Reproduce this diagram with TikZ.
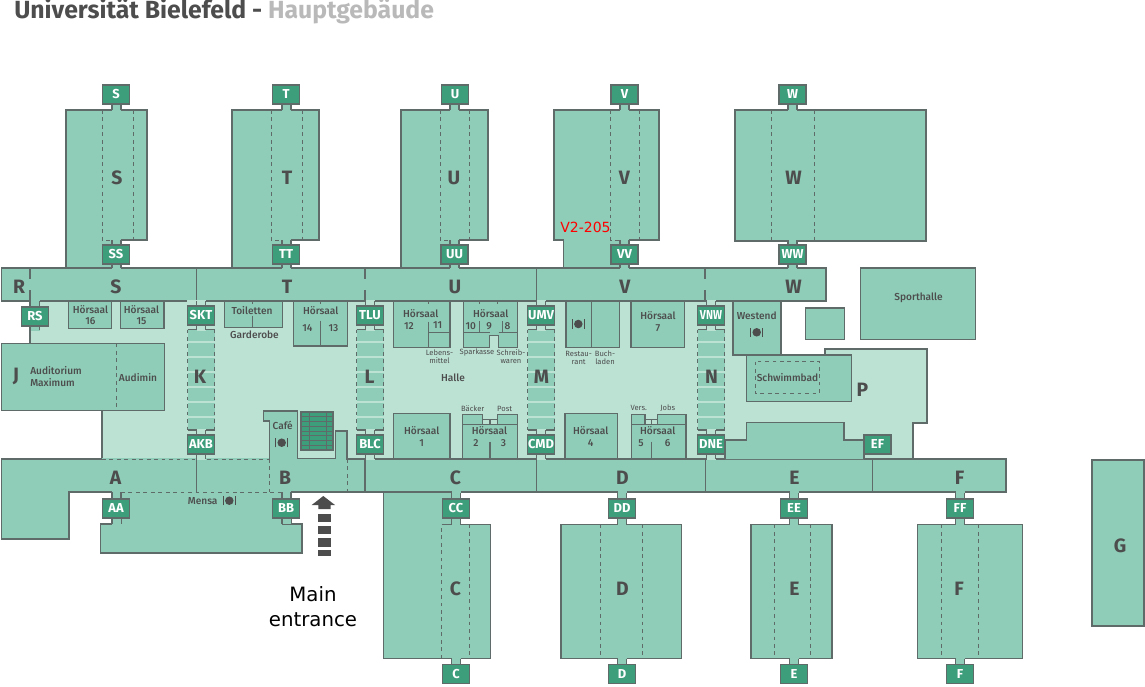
\documentclass[tikz,border=0pt]{standalone}
\usepackage{fontspec}
\usepackage{graphicx}
\setmainfont{Fira Sans}
\newfontfamily\medfont{Fira Sans Medium}
\newfontfamily\plainfont{DejaVu Sans}
\definecolor{wingcol}{HTML}{8FCDB8}
\definecolor{hallcol}{HTML}{BCE2D4}
\definecolor{gatecol}{HTML}{3D9E7C}
\definecolor{wallcol}{HTML}{5F6B68}
\definecolor{inkcol}{HTML}{4D4D4D}
\definecolor{palecol}{HTML}{B9B9B9}
\tikzset{
  wall/.style={draw=wallcol,line width=0.95pt},
  wing/.style={wall,fill=wingcol},
  hidden/.style={draw=wallcol,line width=0.75pt,dash pattern=on 2.8pt off 2.8pt},
  gate/.style={wall,fill=gatecol,text=white,font=\bfseries\fontsize{9.7}{10}\selectfont,
    minimum width=20.4pt,minimum height=14.4pt,inner sep=0pt},
  letter/.style={text=inkcol,inner sep=0pt,font=\bfseries\fontsize{14.5}{14.5}\selectfont},
  roomlabel/.style={text=inkcol,inner sep=0pt,font=\medfont\fontsize{7.6}{7.6}\selectfont},
  smalllabel/.style={text=inkcol,inner sep=0pt,align=center,font=\fontsize{5.7}{6.2}\selectfont},
  plate/.pic={
    \fill[inkcol] (0,0) circle (3.2pt);
    \draw[inkcol,line width=1pt] (-4.5pt,-3.5pt) to (-4.5pt,3.5pt);
    \draw[inkcol,line width=1pt] (4.5pt,-3.5pt) to (4.5pt,3.5pt);
  }
}
\newcommand{\neck}[4][wingcol]{%
  \fill[#1] (#2,#3-1) rectangle (#2+9,#4+1);
  \draw[wall] (#2,#3) to (#2,#4);
  \draw[wall] (#2+9,#3) to (#2+9,#4);
}
\begin{document}
\begin{tikzpicture}[x=0.75pt,y=-0.75pt]
  \useasboundingbox (0,0) rectangle (1145,686);
  \node[anchor=base west,inner sep=0pt,font=\bfseries\fontsize{18.6}{19}\selectfont] (title) at (14,18.5)
    {\textcolor{inkcol}{Universit\"at Bielefeld - }\textcolor{palecol}{Hauptgeb\"aude}};

  % hall
  \draw[wall,fill=hallcol] (30,301) -- (733,301) -- (733,355) -- (825,355) -- (825,349) -- (927,349)
    -- (927,423) -- (913,423) -- (913,459) -- (102,459) -- (102,410) -- (30,410) -- cycle;

  % upper wings
  \foreach \l/\r/\n/\da/\db in {66/147/112/102/133,232/319/282/271/302,401/488/450/440/469} {
    \draw[wing] (\l,268) -- (\l,110) -- (\r,110) -- (\r,240) -- (\n+9,240) -- (\n+9,268) -- cycle;
    \draw[hidden] (\da,110) -- (\da,240) -- (\n,240);
    \draw[hidden] (\db,110) to (\db,240);
  }
  \draw[wing] (563.5,268) -- (563.5,240) -- (554,240) -- (554,110) -- (659,110) -- (659,240)
    -- (629,240) -- (629,268) -- cycle;
  \draw[hidden] (610.5,110) -- (610.5,240) -- (620,240);
  \draw[hidden] (639.5,110) to (639.5,240);
  \draw[wing] (735,110) rectangle (926,241);
  \draw[hidden] (771,110) to (771,241);
  \draw[hidden] (814.5,110) to (814.5,241);
  \foreach \n in {112,282,450,620,788} {
    \neck{\n}{104}{110}
    \neck{\n}{240}{245}
    \neck{\n}{264}{268}
  }

  % lower wings
  \draw[wing] (383.5,492) -- (383.5,658.5) -- (490.5,658.5) -- (490.5,524.5) -- (460.5,524.5)
    -- (460.5,492) -- cycle;
  \draw[hidden] (441.5,658.5) -- (441.5,524.5);
  \draw[wall] (441.5,524.5) to (451.5,524.5);
  \draw[hidden] (469.5,524.5) to (469.5,658.5);
  \foreach \l/\r/\da/\db in {561/681.5/600.5/642.5,751/832/774.5/810.5,917.5/1022.5/941.5/978} {
    \draw[wing] (\l,524.5) rectangle (\r,658.5);
    \draw[hidden] (\da,524.5) to (\da,658.5);
    \draw[hidden] (\db,524.5) to (\db,658.5);
  }
  \foreach \n in {451.5,617.5,789.5,955.5} {
    \neck{\n}{492}{498}
    \neck{\n}{518.5}{524.5}
    \neck{\n}{658.5}{663.5}
  }

  % upper corridor
  \draw[wing] (1.5,268) rectangle (826,301);
  \draw[wall] (196.5,268) to (196.5,301);
  \draw[wall] (536.5,268) to (536.5,301);
  \foreach \x in {30,365,705} {
    \draw[wall] (\x,268) to (\x,279);
    \draw[wall] (\x,290) to (\x,301);
  }
  \foreach \n in {112,282,450,620,788} {
    \neck{\n}{264}{268}
  }
  \fill[hallcol] (187,300.4) rectangle (197,302);

  % lower corridor, Mensa and Cafe
  \draw[wing] (100.5,524) -- (112,524) -- (112,491) -- (291,491) -- (291,524) -- (302,524)
    -- (302,553) -- (100.5,553) -- cycle;
  \fill[wingcol] (1.5,458) -- (1006,458) -- (1006,492) -- (69,492) -- (69,539) -- (1.5,539) -- cycle;
  \draw[wall] (102,459) -- (1.5,459) -- (1.5,539) -- (69,539) -- (69,492) -- (112,492);
  \draw[wall] (291,492) -- (1006,492) -- (1006,459) -- (347,459);
  \draw[hidden] (121,492) to (282,492);
  \draw[hidden] (102,459) to (195,459);
  \draw[hidden] (207,459) to (269,459);
  \draw[hidden] (269,459) to (269,492);
  \draw[hidden] (347,459) to (347,492);
  \foreach \x in {196.5,365,536.5,705.5,872.5} {
    \draw[wall] (\x,459) to (\x,492);
  }
  \draw[wing] (269.5,462) -- (269.5,421) -- (263.5,421) -- (263.5,411) -- (297.5,411) -- (297.5,458.5)
    -- (335.5,458.5) -- (335.5,431) -- (347,431) -- (347,462);
  \fill[wingcol] (270,459.5) rectangle (346.5,464);
  \draw[wall,fill=gatecol] (301,412) rectangle (333,450);
  \foreach \y in {416.7,421.5,426.3,431.1,435.9,440.7,445.5} {
    \draw[wallcol,line width=0.7pt] (301,\y) to (333,\y);
  }
  \draw[wallcol,line width=0.7pt] (309,412) to (309,450);
  \draw[wallcol,line width=0.7pt] (326,412) to (326,450);
  \foreach \n in {112,282,451.5,617.5,789.5,955.5} {
    \fill[wingcol] (\n,491) rectangle (\n+9,493);
  }
  \neck{112}{492}{498}
  \neck{112}{518.5}{524}
  \neck{282}{492}{498}
  \neck{282}{518.5}{524}
  \draw[wall] (282,524) -- (302,524);
  \fill[wingcol] (283,519) rectangle (290.5,524.4);
  \fill[wingcol] (113,519) rectangle (120.5,524.4);
  \draw[wall] (100.5,524) -- (112,524);

  % rooms on the hall
  \draw[wing] (1.5,343.5) rectangle (164.5,410.5);
  \draw[hidden] (116,343.5) to (116,410.5);
  \draw[wing] (68.5,301) rectangle (111.5,328.5);
  \draw[wing] (120.5,301) rectangle (164,328.5);
  \draw[wing] (224.5,301) rectangle (282.5,327.5);
  \draw[wall] (252.5,315.5) to (252.5,327.5);
  \draw[wall] (252.5,301) to (252.5,304);
  \draw[wing] (293.5,301) rectangle (347.5,346);
  \draw[wall] (320.5,320.5) to (320.5,346);
  \draw[wall] (320.5,301) to (320.5,304);
  \draw[wing] (393.5,301) rectangle (450,347.5);
  \draw[wall] (428.5,321.5) to (428.5,347.5);
  \draw[wall] (428.5,332.5) to (450,332.5);
  \draw[wall] (428.5,301) to (428.5,304);
  \draw[wing] (463.5,301) -- (517.5,301) -- (517.5,347.5) -- (498.5,347.5) -- (498.5,335.5)
    -- (489.5,335.5) -- (489.5,347.5) -- (463.5,347.5) -- cycle;
  \draw[wall] (463.5,332.5) -- (489.5,332.5);
  \draw[wall] (498.5,332.5) -- (517.5,332.5);
  \draw[wall] (479.5,321) to (479.5,332.5);
  \draw[wall] (502.5,321) to (502.5,332.5);
  \draw[wall] (479.5,301) to (479.5,304);
  \draw[wall] (497.5,301) to (497.5,304);
  \draw[wing] (566,301) rectangle (619.5,347.5);
  \draw[wall] (591.5,301) to (591.5,347.5);
  \draw[wing] (631,301) rectangle (684.5,347.5);
  \draw[wing] (393.5,413.5) rectangle (450,459);
  \draw[wing] (565,413.5) rectangle (617.5,459);
  \foreach \l/\r/\a/\b/\m in {462.5/517.5/482.5/497.5/490,631.5/686/645/657.5/651.5} {
    \draw[wing] (\l,424.5) rectangle (\r,459);
    \draw[wing] (\l,414.5) rectangle (\a,424.5);
    \draw[wing] (\b,414.5) rectangle (\r,424.5);
    \draw[wall] (\a,419.5) to (\b,419.5);
    \draw[wall] (\m,419.5) to (\m,424.5);
    \draw[wall] (\m,441.5) to (\m,459);
  }
  \draw[wing] (733.5,301) rectangle (781,355);
  \draw[wing] (746.5,355) rectangle (851.5,401.5);
  \draw[hidden] (755,361.5) rectangle (819.5,393.5);
  \draw[wing] (725,459) -- (725,440) -- (746.5,440) -- (746.5,422.5) -- (844,422.5) -- (844,440)
    -- (864,440) -- (864,459);
  \draw[wing] (805.5,308) rectangle (844.5,339.5);
  \draw[wing] (860.5,268) rectangle (975.5,339.5);
  \draw[wing] (1092,460) rectangle (1144,626);

  % stairs
  \foreach \c in {201,370,541,711} {
    \fill[wingcol] (\c-13.5,329.5) rectangle (\c+13.5,430);
    \foreach \y in {342,357,372,387,402,417} {
      \fill[hallcol] (\c-13.5,\y-1) rectangle (\c+13.5,\y+1);
    }
    \draw[hidden] (\c-13.5,329.5) to (\c-13.5,430);
    \draw[hidden] (\c+13.5,329.5) to (\c+13.5,430);
    \draw[wall] (\c-13.5,329.5) -- (\c-4.5,329.5);
    \draw[wall] (\c+13.5,329.5) -- (\c+4.5,329.5);
    \draw[wall] (\c-13.5,430) -- (\c-4.5,430);
    \draw[wall] (\c+13.5,430) -- (\c+4.5,430);
    \neck[hallcol]{\c-4.5}{301}{306}
    \neck[hallcol]{\c-4.5}{325}{329.5}
    \neck[hallcol]{\c-4.5}{430}{435}
    \neck[hallcol]{\c-4.5}{454}{459}
  }
  \neck{30.5}{301}{307}
  \neck{30.5}{325.5}{330}

  % gates
  \foreach \nm/\x/\y/\txt in {gS/116/94.5/S,gT/286/94.5/T,gU/455/94.5/U,gV/624.5/94.5/V,gW/792.5/94.5/W,
    gSS/116/254.5/SS,gTT/286/254.5/TT,gUU/454.5/254.5/UU,gVV/624.5/254.5/VV,gWW/792.5/254.5/WW,
    gRS/35/316.5/RS,gSKT/201/315.5/SKT,gTLU/370/315.5/TLU,gUMV/541/315.5/UMV,
    gAKB/201/444.5/AKB,gBLC/370/444.5/BLC,gCMD/541/444.5/CMD,gDNE/711/444.5/DNE,gEF/877.5/444.5/EF,
    gAA/116/508.5/AA,gBB/286/508.5/BB,gCC/456/508.5/CC,gDD/622/508.5/DD,gEE/794/508.5/EE,gFF/960/508.5/FF,
    gC/456/674/C,gD/622/674/D,gE/794/674/E,gF/960/674/F} {
    \node[gate] (\nm) at (\x,\y) {\txt};
  }
  \node[gate] (gVNW) at (711,315.5) {\scalebox{0.82}[1]{VNW}};

  % letters
  \foreach \nm/\x/\y/\txt in {wS/117/178/S,wT/287/178/T,wU/454/178/U,wV/624.5/178/V,wW/793.5/178/W,
    cR/19/286.7/R,cS/116/286.7/S,cT/287/286.7/T,cU/455/286.7/U,cV/625/286.7/V,cW/793.5/286.7/W,
    cJ/16/376.5/J,cK/200/376.5/K,cL/369.5/376.5/L,cM/541.5/376.5/M,cN/711.5/376.5/N,cP/862.5/390/P,
    cA/115.5/477.7/A,cB/285/477.7/B,cC/455.5/477.7/C,cD/622.5/477.7/D,cE/794.5/477.7/E,cF/959.5/477.7/F,
    wC/455.5/589/C,wD/622.5/589/D,wE/794.5/589/E,wF/959/589/F,wG/1120/546/G} {
    \node[letter] (\nm) at (\x,\y) {\txt};
  }

  % room names
  \foreach \nm/\x/\y/\txt in {hs16/90.5/309.5/H\"orsaal,n16/90.5/320.7/16,hs15/141.5/309.5/H\"orsaal,n15/141.5/320.7/15,
    toil/252/310.7/Toiletten,gard/254.5/334.5/Garderobe,hs14/320.7/310.7/H\"orsaal,n14/307.5/328.5/14,n13/333.5/328.5/13,
    audi/138/377.5/Audimin,mensa/202.7/500.7/Mensa,cafe/282.7/425.7/Caf\'e,
    hs12/420.7/313.5/H\"orsaal,n12/409/325.7/12,n11/437.7/325.5/11,
    hs10/490.7/313.7/H\"orsaal,n10/470.7/325.7/10,n9/489/325.7/9,n8/507.5/325.7/8,
    hs7/658/316/H\"orsaal,n7/658/327.7/7,halle/453/377.5/Halle,
    hs1/421.7/431/H\"orsaal,n1/421.7/442.7/1,hs2/489.5/431/H\"orsaal,n2/476/442.7/2,n3/503.5/442.7/3,
    hs4/590.7/431/H\"orsaal,n4/590.7/442.7/4,hs5/657.7/431/H\"orsaal,n5/641/442.7/5,n6/667.7/442.7/6,
    west/756.7/316/Westend,schw/787.5/377.5/Schwimmbad,sport/918.5/298/Sporthalle} {
    \node[roomlabel] (\nm) at (\x,\y) {\txt};
  }
  \node[roomlabel,anchor=west] (aula) at (30,370.7) {Auditorium};
  \node[roomlabel,anchor=west] (maxi) at (30,382.7) {Maximum};
  \foreach \nm/\x/\y/\txt in {leben/439.5/356.5/Lebens-\\mittel,spark/477/352.5/Sparkasse,
    schreib/511/356.5/Schreib-\\waren,rest/578.7/358/Restau-\\rant,buch/605/358/Buch-\\laden,
    baeck/472.7/408.7/B\"acker,post/504.7/408.7/Post,vers/638.7/407.7/Vers.,jobs/667.7/407.7/Jobs} {
    \node[smalllabel] (\nm) at (\x,\y) {\txt};
  }
  \pic at (281.7,442.7) {plate};
  \pic at (229.3,500.7) {plate};
  \pic at (578.3,324) {plate};
  \pic at (756.7,332.3) {plate};

  % entrance
  \fill[inkcol] (311.7,505) -- (323.3,496) -- (335,505) -- (330.5,505) -- (330.5,509) -- (318.3,509)
    -- (318.3,505) -- cycle;
  \foreach \a/\b in {514/522.3,526/534.3,538.3/546.7,550/555.7} {
    \fill[inkcol] (318.3,\a) rectangle (330.5,\b);
  }
  \node[inner sep=0pt,font=\plainfont\fontsize{14.8}{18.7}\selectfont,align=center] (entrance) at (313,607) {Main\\entrance};
  \node[inner sep=0pt,text=red,font=\plainfont\fontsize{10.5}{11}\selectfont] (room) at (585.5,227) {V2-205};
\end{tikzpicture}
\end{document}
